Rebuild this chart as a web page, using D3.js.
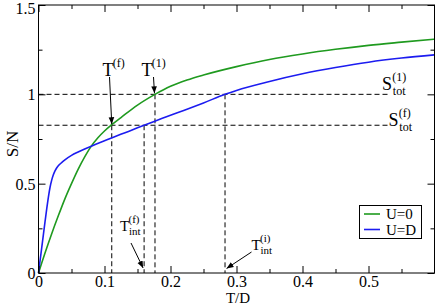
<!DOCTYPE html>
<html><head><meta charset="utf-8">
<script src="https://cdn.jsdelivr.net/npm/d3@7"></script>
<style>
body{margin:0;background:#fff;}
svg, svg text{font-family:"Liberation Serif","Times New Roman",Times,"DejaVu Serif",serif;fill:#000;}
</style></head>
<body><svg id="c" width="436" height="304" font-family="Liberation Serif"></svg>
<script>
// ---- data ----
const T_U0 = [0,0.005,0.01,0.02,0.03,0.04,0.05,0.06,0.07,0.08,0.09,0.1,0.111,0.125,0.15,0.1765,0.2,0.225,0.25,0.3,0.35,0.4,0.45,0.5,0.55,0.6];
const S_U0 = [0,0.057,0.113,0.22,0.32,0.415,0.5,0.58,0.65,0.71,0.757,0.795,0.83,0.87,0.94,1.0,1.045,1.08,1.108,1.155,1.195,1.226,1.252,1.274,1.292,1.309];
const T_UD = [0,0.0025,0.005,0.0075,0.01,0.0125,0.015,0.0175,0.02,0.0225,0.025,0.0275,0.03,0.035,0.04,0.05,0.06,0.07,0.08,0.1,0.12,0.14,0.16,0.18,0.2,0.22,0.25,0.2826,0.3,0.35,0.4,0.45,0.5,0.55,0.6];
const S_UD = [0,0.073,0.145,0.218,0.29,0.36,0.425,0.48,0.52,0.55,0.572,0.588,0.6,0.618,0.633,0.658,0.677,0.694,0.71,0.74,0.77,0.798,0.827,0.855,0.883,0.91,0.952,1.0,1.022,1.072,1.115,1.15,1.18,1.203,1.221];
const seriesNames = ["U=0","U=D"];
const seriesColors = ["#1f9a1f","#1c1cf0"];
const xTicks = [0,0.1,0.2,0.3,0.4,0.5];
const xMinor = [0.05,0.15,0.25,0.35,0.45,0.55];
const yTicks = [0,0.5,1,1.5];
const yMinor = [0.25,0.75,1.25];
const S_tot = [1.0, 0.827];          // S_tot^(1), S_tot^(f)
const S_tot_end = 0.53;
const T_marks = [0.111, 0.1765, 0.16, 0.2826]; // T^(f), T^(1), T_int^(f), T_int^(i)
const T_mark_levels = [0.827, 1.0, 0.827, 1.0];

// ---- layout ----
const FONT = "Liberation Serif, Times New Roman, serif";
const svg = d3.select("#c");
const x = d3.scaleLinear().domain([0,0.6]).range([38.5,434.5]);
const y = d3.scaleLinear().domain([0,1.5]).range([273,5]);

// dashed guides
const g = svg.append("g").attr("stroke","#000").attr("stroke-width",1).attr("stroke-dasharray","5,3").attr("fill","none");
S_tot.forEach(s=>{
  g.append("line").attr("x1",x(0)).attr("x2",x(S_tot_end)).attr("y1",y(s)).attr("y2",y(s));
});
T_marks.forEach((t,i)=>{
  g.append("line").attr("x1",x(t)).attr("x2",x(t)).attr("y1",y(T_mark_levels[i])).attr("y2",y(0));
});

// curves
const line = d3.line().x(d=>x(d[0])).y(d=>y(d[1])).curve(d3.curveMonotoneX);
const dataSets = [d3.zip(T_U0,S_U0), d3.zip(T_UD,S_UD)];
dataSets.forEach((d,i)=>{
  svg.append("path").attr("d",line(d)).attr("fill","none").attr("stroke",seriesColors[i]).attr("stroke-width",1.6);
});

// frame
svg.append("rect").attr("x",x(0)).attr("y",y(1.5)).attr("width",x(0.6)-x(0)).attr("height",y(0)-y(1.5))
  .attr("fill","none").attr("stroke","#000").attr("stroke-width",1);

// axes
function styleAxis(sel){
  sel.attr("font-family",FONT).attr("font-size",16);
  sel.select(".domain").remove();
  sel.selectAll("line").attr("stroke","#000");
  sel.selectAll("text").attr("font-family",FONT).style("font-size","16px");
}
svg.append("g").attr("transform",`translate(0,${y(0)})`)
  .call(d3.axisBottom(x).tickValues(xTicks).tickSize(-7).tickPadding(3).tickFormat(d3.format("~g"))).call(styleAxis);
svg.append("g").attr("transform",`translate(0,${y(0)})`)
  .call(d3.axisBottom(x).tickValues(xMinor).tickSize(-4).tickFormat("")).call(styleAxis);
svg.append("g").attr("transform",`translate(0,${y(1.5)})`)
  .call(d3.axisTop(x).tickValues(xTicks).tickSize(-7).tickFormat("")).call(styleAxis);
svg.append("g").attr("transform",`translate(0,${y(1.5)})`)
  .call(d3.axisTop(x).tickValues(xMinor).tickSize(-4).tickFormat("")).call(styleAxis);
const yAx = svg.append("g").attr("transform",`translate(${x(0)},0)`)
  .call(d3.axisLeft(y).tickValues(yTicks).tickSize(-7).tickPadding(3).tickFormat(d3.format("~g"))).call(styleAxis);
yAx.selectAll(".tick text").attr("dy", d => d === 1.5 ? "0.5em" : "0.34em");
svg.append("g").attr("transform",`translate(${x(0)},0)`)
  .call(d3.axisLeft(y).tickValues(yMinor).tickSize(-4).tickFormat("")).call(styleAxis);
svg.append("g").attr("transform",`translate(${x(0.6)},0)`)
  .call(d3.axisRight(y).tickValues(yTicks).tickSize(-7).tickFormat("")).call(styleAxis);
svg.append("g").attr("transform",`translate(${x(0.6)},0)`)
  .call(d3.axisRight(y).tickValues(yMinor).tickSize(-4).tickFormat("")).call(styleAxis);

// axis titles
svg.append("text").attr("x",238).attr("y",302.5).attr("text-anchor","middle").attr("font-family",FONT).style("font-size","15px").text("T/D");
svg.append("text").attr("transform","translate(18,144) rotate(-90)").attr("text-anchor","middle").attr("font-family",FONT).style("font-size","17px").text("S/N");

// arrow marker
svg.append("defs").append("marker").attr("id","ah").attr("viewBox","0 0 10 10").attr("refX",10).attr("refY",5)
  .attr("markerWidth",7).attr("markerHeight",7).attr("markerUnits","userSpaceOnUse").attr("orient","auto")
  .append("path").attr("d","M0,1 L10,5 L0,9 Z").attr("fill","#000");

function label(xp, yp, main, sup, sub, size, ssize){
  const t = svg.append("g").attr("font-family",FONT);
  t.append("text").attr("x",xp).attr("y",yp).style("font-size",size+"px").text(main);
  const w = size*0.6;
  if(sup) t.append("text").attr("x",xp+w-0.5).attr("y",yp-size*0.5).style("font-size",ssize+"px").text(sup);
  if(sub) t.append("text").attr("x",xp+w).attr("y",yp+size*0.3).style("font-size",ssize+"px").text(sub);
}
function arrow(x1,y1,x2,y2){
  svg.append("line").attr("x1",x1).attr("y1",y1).attr("x2",x2).attr("y2",y2)
    .attr("stroke","#000").attr("stroke-width",1).attr("marker-end","url(#ah)");
}
// T^(f)
label(102.5, 75.5, "T", "(f)", null, 18, 12);
arrow(109.5, 77, x(T_marks[0]), y(T_mark_levels[0])-1);
// T^(1)
label(141.5, 75.5, "T", "(1)", null, 18, 12);
arrow(153.5, 77, x(T_marks[1])-0.5, y(T_mark_levels[1])-1);
// S_tot^(1)
label(382, 89.5, "S", "(1)", "tot", 18, 12);
// S_tot^(f)
label(388.5, 125.5, "S", "(f)", "tot", 18, 12);
// T_int^(f)
label(120, 230.5, "T", "(f)", "int", 15, 11);
arrow(131, 243, x(T_marks[2])-1, y(0)-5);
// T_int^(i)
label(251.5, 249.5, "T", "(i)", "int", 15, 11);
arrow(251.5, 252, x(T_marks[3])+1.5, y(0)-4.5);

// legend
const lg = svg.append("g").attr("font-family",FONT);
lg.append("rect").attr("x",359.5).attr("y",205.5).attr("width",62).attr("height",33).attr("fill","#fff").attr("stroke","#000").attr("stroke-width",1);
seriesNames.forEach((n,i)=>{
  const yy = 214 + i*15.5;
  lg.append("line").attr("x1",364).attr("x2",380).attr("y1",yy).attr("y2",yy).attr("stroke",seriesColors[i]).attr("stroke-width",1.6);
  lg.append("text").attr("x",386).attr("y",yy+5).style("font-size","15px").text(n);
});
</script></body></html>
